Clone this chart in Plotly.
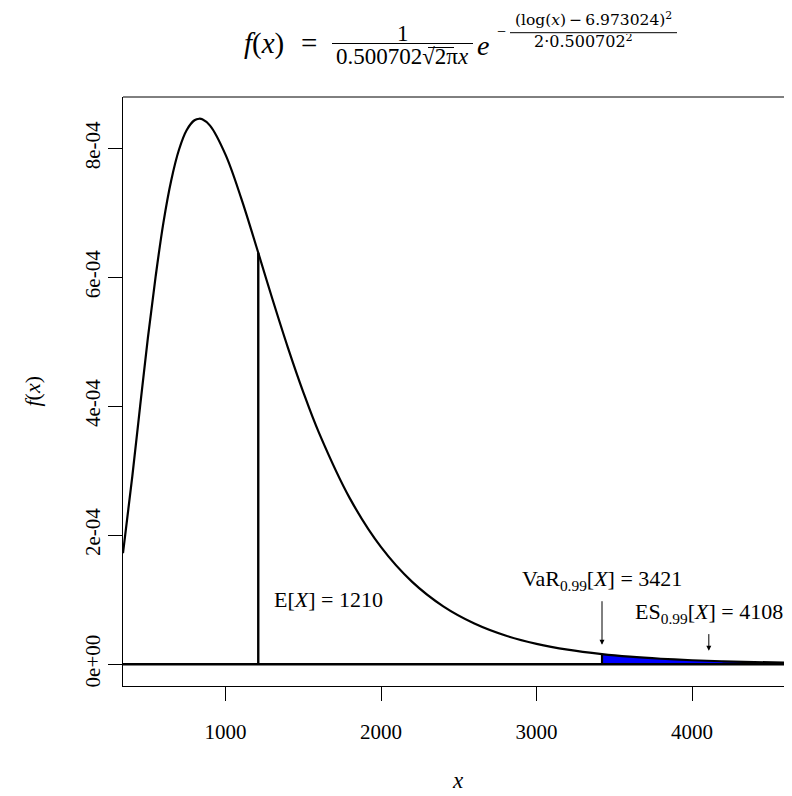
import plotly.graph_objects as go

# ---- data ----
curve_x = [340, 400, 450, 500, 550, 600, 650, 700, 750, 800, 830, 850, 900, 1000,
           1100, 1210, 1300, 1400, 1500, 1600, 1800, 2000, 2200, 2400, 2600, 2800,
           3000, 3200, 3421, 3600, 3800, 4000, 4200, 4400, 4643]
curve_y = [1.722e-4, 2.916e-4, 3.998e-4, 5.060e-4, 6.014e-4, 6.850e-4, 7.504e-4,
           7.980e-4, 8.286e-4, 8.437e-4, 8.461e-4, 8.452e-4, 8.354e-4, 7.900e-4,
           7.230e-4, 6.382e-4, 5.672e-4, 4.915e-4, 4.217e-4, 3.592e-4, 2.568e-4,
           1.815e-4, 1.276e-4, 0.897e-4, 0.631e-4, 0.445e-4, 0.316e-4, 0.225e-4,
           0.156e-4, 0.116e-4, 0.084e-4, 0.061e-4, 0.045e-4, 0.033e-4, 0.023e-4]
mean_value = 1210
var_value = 3421
es_value = 4108
x_ticks = [1000, 2000, 3000, 4000]
y_ticks = [0, 2e-4, 4e-4, 6e-4, 8e-4]
y_tick_labels = ["0e+00", "2e-04", "4e-04", "6e-04", "8e-04"]
x_range = [340, 4643]
y_range = [-3.384e-5, 8.798e-4]

SERIF = "Liberation Serif, Times New Roman, serif"
SMALL = "DejaVu Serif, serif"

# page offset of the figure inside the browser window (default body margin)
OFF = 8
# plot-area geometry in window pixels
L, R, T, B = 123, 792, 97, 686
W, H = 792 - OFF, 796 - OFF


def px(p):
    return (p - L) / (R - L)


def py(p):
    return (B - p) / (B - T)


tail_x = [x for x in curve_x if x >= var_value]
tail_y = [y for x, y in zip(curve_x, curve_y) if x >= var_value]
mean_y = curve_y[curve_x.index(mean_value)]
var_y = curve_y[curve_x.index(var_value)]

fig = go.Figure()
fig.add_trace(go.Scatter(x=tail_x, y=tail_y, mode="lines", fill="tozeroy",
                         fillcolor="#0000FF", line=dict(color="#0000FF", width=0, shape="spline"),
                         hoverinfo="skip", showlegend=False))
fig.add_trace(go.Scatter(x=x_range, y=[0, 0], mode="lines",
                         line=dict(color="black", width=2.4), showlegend=False))
fig.add_trace(go.Scatter(x=curve_x, y=curve_y, mode="lines",
                         line=dict(color="black", width=2.2, shape="spline", smoothing=1),
                         showlegend=False))
fig.add_trace(go.Scatter(x=[mean_value, mean_value], y=[0, mean_y], mode="lines",
                         line=dict(color="black", width=2.4), showlegend=False))
fig.add_trace(go.Scatter(x=[var_value, var_value], y=[0, var_y], mode="lines",
                         line=dict(color="black", width=2.2), showlegend=False))

ann = []
ann.append(dict(x=mean_value, y=1.0e-4, xref="x", yref="y", xanchor="left", yanchor="middle",
                xshift=14, showarrow=False,
                text="E[<i>X</i>] = %d" % mean_value,
                font=dict(family=SERIF, size=22, color="black")))
ann.append(dict(x=var_value, y=1.31e-4, xref="x", yref="y", xanchor="center", yanchor="middle",
                showarrow=False,
                text="VaR<sub>0.99</sub>[<i>X</i>] = %d" % var_value,
                font=dict(family=SERIF, size=22, color="black")))
ann.append(dict(x=es_value, y=0.80e-4, xref="x", yref="y", xanchor="center", yanchor="middle",
                showarrow=False,
                text="ES<sub>0.99</sub>[<i>X</i>] = %d" % es_value,
                font=dict(family=SERIF, size=22, color="black")))
for xv, head, tail in [(var_value, 3.0e-5, 1.0e-4), (es_value, 2.1e-5, 4.9e-5)]:
    ann.append(dict(x=xv, y=head, xref="x", yref="y", ax=xv, ay=tail, axref="x", ayref="y",
                    text="", showarrow=True, arrowhead=2, arrowsize=1, arrowwidth=1,
                    arrowcolor="black", standoff=0, startstandoff=0))

ann.append(dict(x=px(32), y=0.5, xref="paper", yref="paper", textangle=-90, showarrow=False,
                text="<i>f</i>(<i>x</i>)", font=dict(family=SERIF, size=22, color="black"),
                xanchor="center", yanchor="middle"))
ann.append(dict(x=px(457.5), y=py(780), xref="paper", yref="paper", showarrow=False,
                text="<i>x</i>", font=dict(family=SERIF, size=23, color="black"),
                xanchor="center", yanchor="middle", height=20))


def t(text, xp, yp, size, fam=SERIF, anchor="center", h=None):
    d = dict(x=px(xp), y=py(yp), xref="paper", yref="paper", showarrow=False,
             text=text, font=dict(family=fam, size=size, color="black"),
             xanchor=anchor, yanchor="middle")
    if h:
        d["height"] = h
    ann.append(d)


t("<i>f</i>(<i>x</i>)", 264, 43, 29)
t("=", 309, 43, 29)
t("1", 402.5, 33, 23, h=18)
t("0.500702\u221a2\u03c0<i>x</i>", 402.5, 56, 23, h=20)
t("<i>e</i>", 483, 45, 28)
t("\u2212", 501, 31, 16)
t("(log(<i>x</i>)\u2009\u2212\u20096.973024)<sup>2</sup>", 593, 19, 15.5, SMALL, h=18)
t("2\u00b70.500702<sup>2</sup>", 583, 41, 16, SMALL, h=14)

shapes = [
    dict(type="line", xref="paper", yref="paper", x0=px(332), x1=px(473), y0=py(43.5), y1=py(43.5),
         line=dict(color="black", width=1)),
    dict(type="line", xref="paper", yref="paper", x0=px(428), x1=px(454), y0=py(47.5), y1=py(47.5),
         line=dict(color="black", width=1)),
    dict(type="line", xref="paper", yref="paper", x0=px(510), x1=px(677), y0=py(32.7), y1=py(32.7),
         line=dict(color="black", width=1)),
    dict(type="line", xref="paper", yref="paper", x0=0, x1=1, y0=1, y1=1,
         line=dict(color="black", width=1)),
]

fig.update_layout(
    width=W, height=H,
    margin=dict(l=L - OFF, r=0, t=T - OFF, b=(796 - B), pad=0),
    paper_bgcolor="white", plot_bgcolor="white",
    font=dict(family=SERIF, color="black"),
    showlegend=False,
    annotations=ann, shapes=shapes,
    xaxis=dict(range=x_range, tickvals=x_ticks, ticktext=[str(v) for v in x_ticks],
               showgrid=False, zeroline=False, showline=True, linecolor="black", linewidth=1,
               ticks="outside", ticklen=14, tickwidth=1, tickcolor="black",
               tickfont=dict(family=SERIF, size=21, color="black"), ticklabelstandoff=13),
    yaxis=dict(range=y_range, tickvals=y_ticks, ticktext=y_tick_labels, tickangle=-90,
               showgrid=False, zeroline=False, showline=True, linecolor="black", linewidth=1,
               ticks="outside", ticklen=14, tickwidth=1, tickcolor="black",
               tickfont=dict(family=SERIF, size=21, color="black")),
)

fig.write_html("out.html")
